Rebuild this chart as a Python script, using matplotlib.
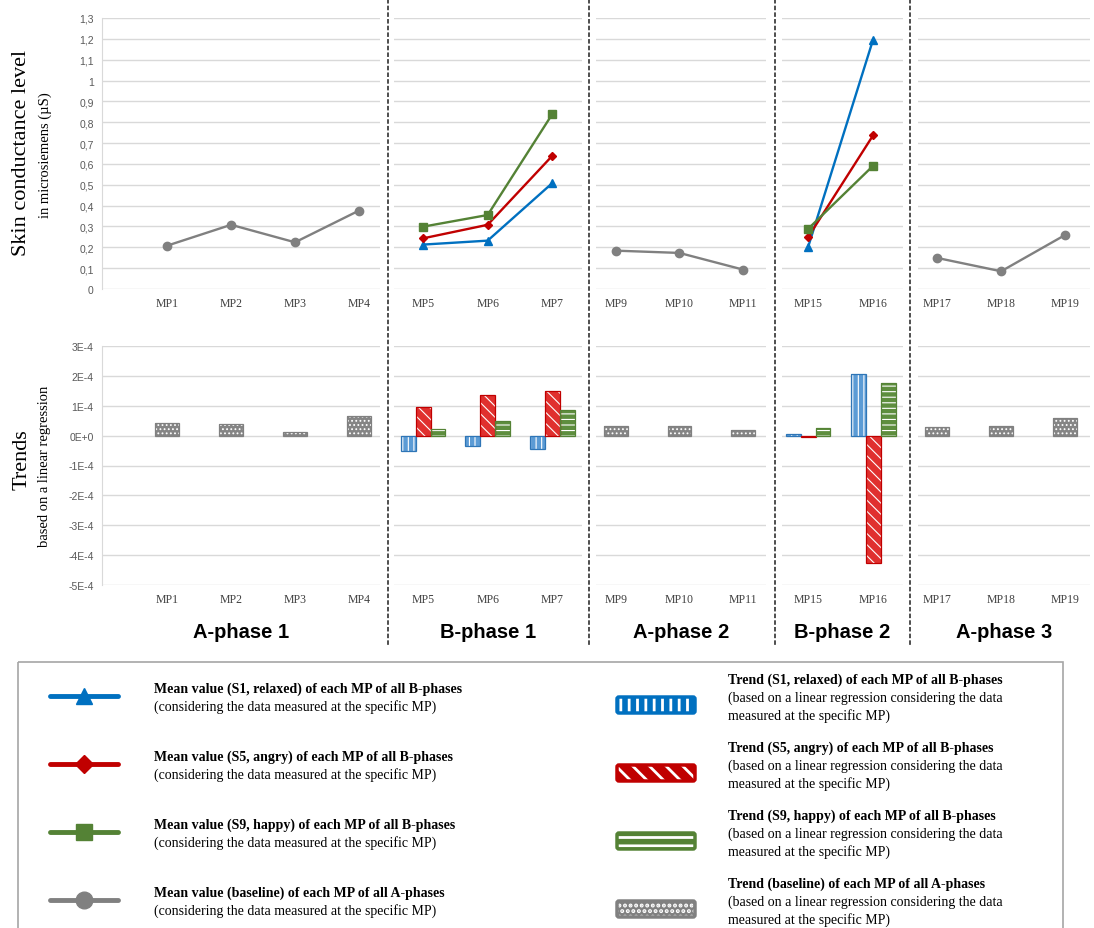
import numpy as np
import matplotlib.pyplot as plt
from matplotlib.patches import Rectangle, FancyBboxPatch
from matplotlib.ticker import FuncFormatter, MultipleLocator

W, H = 1094, 929

# ---- data ----
phase_names = ['A-phase 1', 'B-phase 1', 'A-phase 2', 'B-phase 2', 'A-phase 3']
a1_mps = ['MP1', 'MP2', 'MP3', 'MP4']
b1_mps = ['MP5', 'MP6', 'MP7']
a2_mps = ['MP9', 'MP10', 'MP11']
b2_mps = ['MP15', 'MP16']
a3_mps = ['MP17', 'MP18', 'MP19']

# mean skin conductance level (microsiemens)
a1_base = [0.208, 0.308, 0.224, 0.376]
b1_s1 = [0.213, 0.232, 0.508]
b1_s5 = [0.243, 0.308, 0.639]
b1_s9 = [0.299, 0.355, 0.839]
a2_base = [0.184, 0.173, 0.093]
b2_s1 = [0.200, 1.196]
b2_s5 = [0.248, 0.737]
b2_s9 = [0.288, 0.591]
a3_base = [0.149, 0.085, 0.259]

# trends (in units of 1E-4)
a1_trend = [0.42, 0.39, 0.11, 0.66]
b1_t1 = [-0.51, -0.35, -0.44]
b1_t5 = [0.96, 1.36, 1.49]
b1_t9 = [0.23, 0.49, 0.87]
a2_trend = [0.31, 0.31, 0.19]
b2_t1 = [0.05, 2.07]
b2_t5 = [-0.06, -4.28]
b2_t9 = [0.26, 1.77]
a3_trend = [0.29, 0.33, 0.60]

# ---- styles ----
BLUE, RED, GREEN, GRAY = '#0070C0', '#C00000', '#548235', '#808080'
BLUE_F, RED_F, GREEN_F, GRAY_F = '#5B9BD5', '#E0302E', '#5E8E3E', '#858585'
GRID = '#D9D9D9'
SERIF = 'Liberation Serif'
SANS = 'Liberation Sans'

line_styles = {
    's1': dict(color=BLUE, marker='^'),
    's5': dict(color=RED, marker='D'),
    's9': dict(color=GREEN, marker='s'),
    'base': dict(color=GRAY, marker='o'),
}
bar_styles = {
    's1': (BLUE_F, '#2E75B6', '|||'),
    's5': (RED_F, RED, '\\\\\\'),
    's9': (GREEN_F, GREEN, '---'),
    'base': (GRAY_F, GRAY, '....'),
}

fig = plt.figure(figsize=(W / 100, H / 100), dpi=100)


def px_axes(x0, x1, y0, y1):
    return fig.add_axes([x0 / W, 1 - y1 / H, (x1 - x0) / W, (y1 - y0) / H])


def style_axes(ax, first, top):
    for s in ['top', 'right', 'bottom']:
        ax.spines[s].set_visible(False)
    ax.spines['left'].set_visible(first)
    ax.spines['left'].set_color(GRID)
    ax.grid(axis='y', color=GRID, linewidth=1.0, zorder=0)
    ax.set_axisbelow(True)
    ax.tick_params(length=0, pad=6)
    if top:
        ax.set_ylim(0, 1.3)
        ax.yaxis.set_major_locator(MultipleLocator(0.1))
        ax.yaxis.set_major_formatter(FuncFormatter(
            lambda v, p: ('%g' % round(v, 1)).replace('.', ',')))
    else:
        ax.set_ylim(-5e-4, 3e-4)
        ax.yaxis.set_major_locator(MultipleLocator(1e-4))
        ax.yaxis.set_major_formatter(FuncFormatter(
            lambda v, p: '0E+0' if abs(v) < 1e-9 else '%dE-4' % round(v * 1e4)))
    if not first:
        ax.tick_params(axis='y', labelleft=False)
    for lab in ax.get_yticklabels():
        lab.set_fontfamily(SANS)
        lab.set_fontsize(7.5)
        lab.set_color('#595959')


def draw_bars(ax, x, vals, width, key):
    face, edge, hatch = bar_styles[key]
    v = np.array(vals) * 1e-4
    plt.rcParams['hatch.linewidth'] = 0.8
    ax.bar(x, v, width, facecolor=face, edgecolor='white', hatch=hatch,
           linewidth=0, zorder=3)
    ax.bar(x, v, width, fill=False, edgecolor=edge, linewidth=0.9, zorder=4)


panel_px = [(102, 380), (394, 582), (596, 766), (782, 903), (918, 1090)]
xlims = [(-1.02, 3.33), (-0.45, 2.46), (-0.31, 2.36), (-0.40, 1.46), (-0.30, 2.39)]
panels = [
    (a1_mps, {'base': a1_base}, {'base': a1_trend}),
    (b1_mps, {'s1': b1_s1, 's5': b1_s5, 's9': b1_s9},
     {'s1': b1_t1, 's5': b1_t5, 's9': b1_t9}),
    (a2_mps, {'base': a2_base}, {'base': a2_trend}),
    (b2_mps, {'s1': b2_s1, 's5': b2_s5, 's9': b2_s9},
     {'s1': b2_t1, 's5': b2_t5, 's9': b2_t9}),
    (a3_mps, {'base': a3_base}, {'base': a3_trend}),
]

for i, ((x0, x1), xl, (mps, means, trends)) in enumerate(zip(panel_px, xlims, panels)):
    x = np.arange(len(mps))
    axt = px_axes(x0, x1, 19, 290)
    axb = px_axes(x0, x1, 347, 586)
    for ax, top in [(axt, True), (axb, False)]:
        style_axes(ax, i == 0, top)
        ax.set_xlim(*xl)
        ax.set_xticks(x)
        ax.set_xticklabels(mps, fontfamily=SERIF, fontsize=8.5, color='#404040')
    for key, vals in means.items():
        st = line_styles[key]
        axt.plot(x, vals, color=st['color'], marker=st['marker'], linewidth=1.7,
                 markersize=6 if st['marker'] != 'D' else 4.5, zorder=3)
    if len(trends) == 1:
        draw_bars(axb, x, trends['base'], 0.37, 'base')
    else:
        w = 0.23
        for k, key in enumerate(['s1', 's5', 's9']):
            draw_bars(axb, x + (k - 1) * w, trends[key], w, key)

# ---- overlay: separators, phase labels, axis titles, legend ----
ov = fig.add_axes([0, 0, 1, 1])
ov.set_xlim(0, W)
ov.set_ylim(H, 0)
ov.axis('off')

for xs in [388, 589, 775, 910]:
    ov.plot([xs, xs], [0, 648], color='#404040', linewidth=1.3,
            linestyle=(0, (2.5, 1.2)))
for (x0, x1), name in zip(panel_px, phase_names):
    ov.text((x0 + x1) / 2, 632, name, ha='center', va='center',
            fontfamily=SANS, fontweight='bold', fontsize=14.5)

ov.text(22, 153, 'Skin conductance level', rotation=90, ha='center', va='center',
        fontfamily=SERIF, fontsize=16)
ov.text(45, 155, 'in microsiemens (µS)', rotation=90, ha='center', va='center',
        fontfamily=SERIF, fontsize=10.5)
ov.text(22, 460, 'Trends', rotation=90, ha='center', va='center',
        fontfamily=SERIF, fontsize=16)
ov.text(45, 466, 'based on a linear regression', rotation=90, ha='center', va='center',
        fontfamily=SERIF, fontsize=10.5)

# legend box
ov.add_patch(Rectangle((18, 663), 1045, 290, fill=False, edgecolor='#A6A6A6',
                       linewidth=1.2))

mean_rows = [
    ('s1', 'Mean value (S1, relaxed) of each MP of all B-phases'),
    ('s5', 'Mean value (S5, angry) of each MP of all B-phases'),
    ('s9', 'Mean value (S9, happy) of each MP of all B-phases'),
    ('base', 'Mean value (baseline) of each MP of all A-phases'),
]
for r, (key, title) in enumerate(mean_rows):
    yc = 697 + r * 68
    st = line_styles[key]
    ov.plot([50, 118], [yc, yc], color=st['color'], linewidth=3.5,
            solid_capstyle='round')
    ov.plot([84], [yc], color=st['color'], marker=st['marker'],
            markersize=12 if st['marker'] != 'D' else 9)
    ov.text(154, yc - 8, title, ha='left', va='center', fontfamily=SERIF,
            fontweight='bold', fontsize=10)
    ov.text(154, yc + 10, '(considering the data measured at the specific MP)',
            ha='left', va='center', fontfamily=SERIF, fontsize=10)

trend_rows = [
    ('s1', 'Trend (S1, relaxed) of each MP of all B-phases'),
    ('s5', 'Trend (S5, angry) of each MP of all B-phases'),
    ('s9', 'Trend (S9, happy) of each MP of all B-phases'),
    ('base', 'Trend (baseline) of each MP of all A-phases'),
]
legend_hatch = {'s1': '||', 's5': '\\\\', 's9': '--', 'base': '...'}
legend_fill = {'s1': BLUE, 's5': RED, 's9': GREEN, 'base': GRAY}
plt.rcParams['hatch.linewidth'] = 2.0
for r, (key, title) in enumerate(trend_rows):
    yc = 706 + r * 68
    ov.add_patch(FancyBboxPatch((617, yc - 8), 78, 16,
                                boxstyle='round,pad=0,rounding_size=2',
                                facecolor=legend_fill[key], edgecolor='white',
                                hatch=legend_hatch[key], linewidth=0))
    ov.add_patch(FancyBboxPatch((617, yc - 8), 78, 16,
                                boxstyle='round,pad=0,rounding_size=2',
                                fill=False, edgecolor=legend_fill[key],
                                linewidth=2.5))
    ov.text(728, yc - 26, title, ha='left', va='center', fontfamily=SERIF,
            fontweight='bold', fontsize=10)
    ov.text(728, yc - 8, '(based on a linear regression considering the data',
            ha='left', va='center', fontfamily=SERIF, fontsize=10)
    ov.text(728, yc + 10, 'measured at the specific MP)',
            ha='left', va='center', fontfamily=SERIF, fontsize=10)

fig.savefig('out.png', dpi=100)
